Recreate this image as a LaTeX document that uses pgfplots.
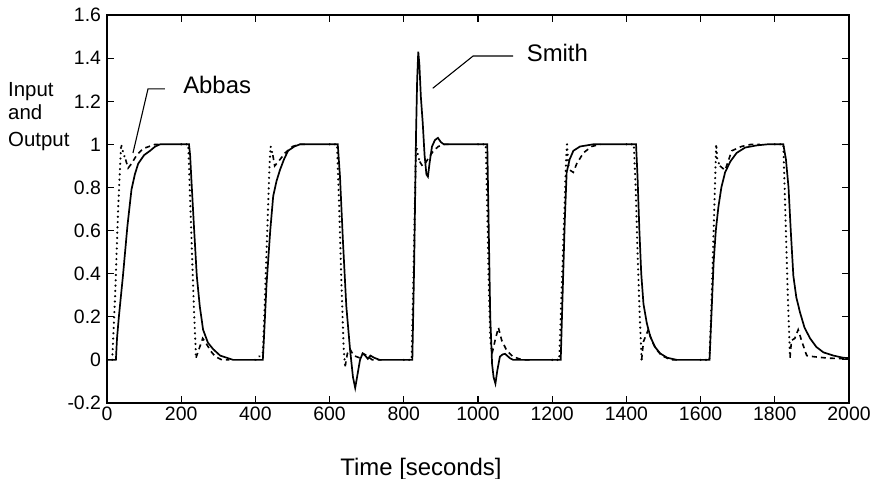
\documentclass[border=0pt]{standalone}
\usepackage{fontspec}
\setmainfont{Liberation Sans}
\usepackage{pgfplots}
\pgfplotsset{compat=1.18}
\begin{document}
\begin{tikzpicture}
\useasboundingbox (-107bp,-76bp) rectangle (766bp,403bp);
\begin{axis}[
  at={(0,0)}, anchor=south west,
  scale only axis, width=742bp, height=388bp,
  xmin=0, xmax=2000, ymin=-0.2, ymax=1.6,
  xtick={0,200,400,600,800,1000,1200,1400,1600,1800,2000},
  xticklabels={0,200,400,600,800,1000,1200,1400,1600,1800,2000},
  ytick={-0.2,0,0.2,0.4,0.6,0.8,1,1.2,1.4,1.6},
  yticklabels={-0.2,0,0.2,0.4,0.6,0.8,1,1.2,1.4,1.6},
  tick label style={font=\fontsize{19.5}{20}\selectfont},
  yticklabel style={xshift=-2.5bp},
  /pgf/number format/assume math mode=true,
  axis line style={line width=1.4bp},
  major tick style={line width=1.2bp, black},
  major tick length=7bp,
  tick align=inside,
  unbounded coords=jump,
]
% dotted: fast transitions
\addplot[black, line width=2.3bp, line cap=round, dash pattern=on 0.1bp off 5.2bp] coordinates {
(0,0) (14,0) (22,0.3) (30,0.7) (38,1.0) (44,0.96) (50,0.93)
(nan,nan)
(200,1.0) (219,1.0) (224,0.75) (229,0.5) (234,0.25) (240,0.01)
(nan,nan)
(400,0) (420,0.03) (426,0.3) (432,0.6) (438,0.9) (441,0.99) (447,0.95)
(nan,nan)
(600,1) (620,1) (626,0.7) (632,0.35) (638,0.05) (642,-0.03)
(nan,nan)
(800,0) (821,0) (825,0.3) (829,0.65) (833,1.0) (838,0.95) (843,0.92)
(nan,nan)
(1000,1) (1021,1.0) (1025,0.7) (1029,0.35) (1033,0.1) (1038,0.03)
(nan,nan)
(1200,0) (1219,0) (1225,0.3) (1232,0.65) (1238,0.95) (1240,1.0) (1243,0.91) (1248,0.88)
(nan,nan)
(1400,1) (1420,1.0) (1425,0.8) (1430,0.5) (1436,0.2) (1441,0.0)
(nan,nan)
(1600,0) (1624,0) (1630,0.3) (1636,0.65) (1642,1.0) (1645,0.93) (1652,0.9)
(nan,nan)
(1800,1) (1823,1.0) (1829,0.65) (1835,0.3) (1841,0.01)
};
% dashed: Abbas bumps
\addplot[black, line width=1.6bp, dash pattern=on 5bp off 4bp] coordinates {
(50,0.93) (57,0.89) (66,0.91) (80,0.95) (97,0.98) (130,1.0) (150,1.0)
(nan,nan)
(240,0.01) (250,0.06) (258,0.10) (266,0.08) (280,0.04) (292,0.015) (310,0) (330,0)
(nan,nan)
(447,0.95) (452,0.9) (462,0.92) (480,0.96) (500,0.99) (520,1.0) (540,1)
(nan,nan)
(642,-0.03) (648,0.03) (655,0.05) (665,0.02) (680,0.01) (690,0.03) (700,0.02) (715,0.0) (740,0)
(nan,nan)
(843,0.92) (850,0.9) (857,0.91) (868,0.94) (880,0.97) (893,0.99) (910,1.0) (930,1)
(nan,nan)
(1038,0.03) (1046,0.09) (1055,0.15) (1064,0.09) (1077,0.045) (1094,0.015) (1120,0) (1140,0)
(nan,nan)
(1248,0.88) (1257,0.87) (1266,0.91) (1284,0.96) (1306,0.99) (1330,1.0)
(nan,nan)
(1441,0.0) (1446,0.085) (1459,0.14) (1468,0.09) (1480,0.05) (1495,0.02) (1520,0.0) (1540,0)
(nan,nan)
(1652,0.9) (1666,0.88) (1684,0.97) (1710,0.99) (1737,1.0) (1760,1)
(nan,nan)
(1841,0.01) (1845,0.09) (1854,0.1) (1863,0.14) (1872,0.09) (1886,0.02) (1904,0.015) (1944,0.008) (2000,0.005)
};
% solid: output
\addplot[black, line width=1.7bp] coordinates {
(0,0) (24,0) (27,0.1) (32,0.2) (43,0.39) (55,0.62) (66,0.79) (75,0.86) (84,0.91) (100,0.95) (116,0.97) (130,0.99) (143,1.0)
(221,1.0) (224,0.95) (228,0.82) (235,0.6) (242,0.39) (250,0.25) (259,0.14) (272,0.08) (286,0.05) (305,0.02) (340,0.0)
(420,0.0) (423,0.1) (430,0.35) (440,0.6) (448,0.76) (457,0.83) (466,0.88) (477,0.93) (488,0.97) (505,0.99) (520,1.0)
(622,1.0) (628,0.85) (636,0.55) (645,0.25) (655,0.05) (663,-0.08) (669,-0.13) (675,-0.07) (682,0.0) (689,0.03) (696,0.02) (703,0.005) (710,0.02) (720,0.01) (735,0.0)
(823,0) (828,0.45) (833,1.05) (836,1.3) (839,1.43) (842,1.37) (846,1.22) (851,1.1) (856,0.95) (861,0.86) (865,0.85) (870,0.92) (876,0.99) (884,1.02) (892,1.03) (900,1.01) (908,1.0)
(1025,1.0) (1029,0.6) (1033,0.2) (1038,-0.02) (1042,-0.08) (1047,-0.11) (1052,-0.05) (1059,0.015) (1066,0.025) (1073,0.028) (1086,0.008) (1095,0.0)
(1223,0) (1228,0.3) (1234,0.65) (1239,0.87) (1247,0.93) (1257,0.97) (1275,0.99) (1293,0.995) (1310,1.0)
(1426,1.0) (1430,0.85) (1435,0.6) (1440,0.4) (1446,0.26) (1455,0.17) (1464,0.11) (1477,0.06) (1491,0.03) (1510,0.01) (1536,0.0)
(1624,0.0) (1629,0.2) (1635,0.45) (1641,0.6) (1648,0.71) (1656,0.8) (1666,0.87) (1680,0.92) (1697,0.96) (1720,0.985) (1751,0.995) (1780,1.0)
(1823,1.0) (1830,0.93) (1837,0.8) (1843,0.6) (1850,0.39) (1858,0.29) (1868,0.22) (1880,0.15) (1895,0.1) (1912,0.06) (1931,0.035) (1958,0.02) (1984,0.01) (2000,0.008)
};
\draw[line width=1.1bp] (axis cs:156,1.257) -- (axis cs:110.5,1.257) -- (axis cs:70,0.96);
\node[anchor=base west, inner sep=0, font=\fontsize{24}{24}\selectfont] at (axis cs:205,1.234) {Abbas};
\draw[line width=1.1bp] (axis cs:1095,1.41) -- (axis cs:987,1.41) -- (axis cs:878,1.26);
\node[anchor=base west, inner sep=0, font=\fontsize{24}{24}\selectfont] at (axis cs:1131,1.384) {Smith};
\end{axis}
\node[anchor=base west, inner sep=0, font=\fontsize{20.5}{21}\selectfont] at (-99bp,306bp) {Input};
\node[anchor=base west, inner sep=0, font=\fontsize{20.5}{21}\selectfont] at (-99bp,283bp) {and};
\node[anchor=base west, inner sep=0, font=\fontsize{20.5}{21}\selectfont] at (-99bp,256bp) {Output};
\node[anchor=base, inner sep=0, font=\fontsize{24}{24}\selectfont] at (314bp,-72bp) {Time [seconds]};
\end{tikzpicture}
\end{document}
